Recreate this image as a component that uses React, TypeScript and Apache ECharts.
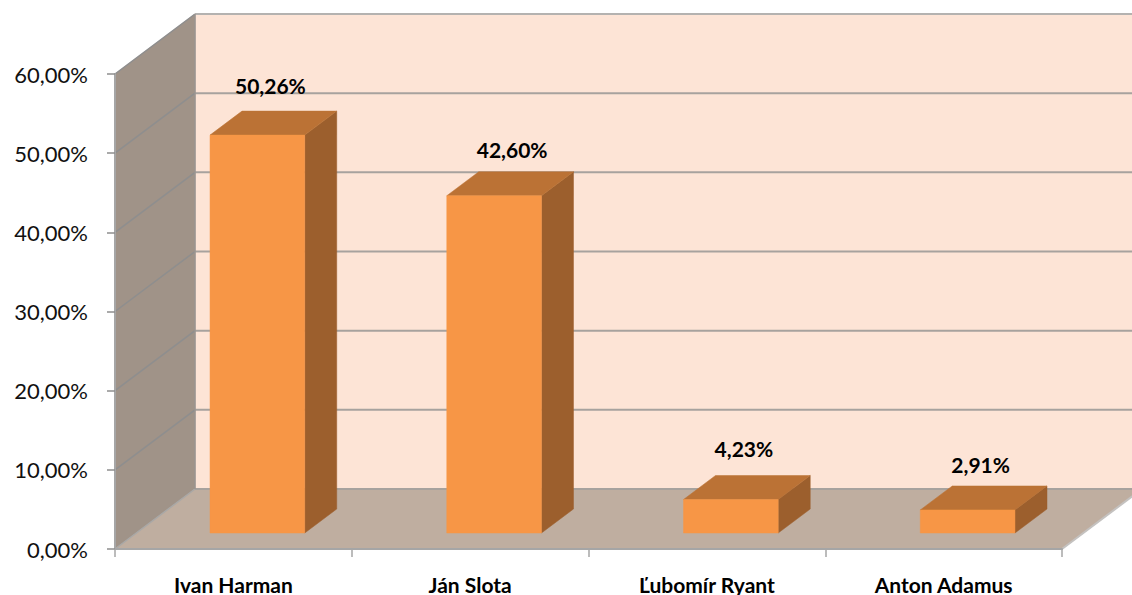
import React, { useEffect, useRef } from "react";
import * as echarts from "echarts";

const categories = ["Ivan Harman", "Ján Slota", "Ľubomír Ryant", "Anton Adamus"];
const values = [50.26, 42.6, 4.23, 2.91];
const axisTicks = [0, 10, 20, 30, 40, 50, 60];

const fmt = (v: number) => v.toFixed(2).replace(".", ",") + "%";

// layout of the pseudo-3D box (pixels)
const WALL_DX = 80;
const WALL_DY = -60;
const BAR_SHIFT_X = 24;
const BAR_SHIFT_Y = -16;
const BAR_DX = 32;
const BAR_DY = -24;
const BAR_RATIO = 0.4;
const labelNudge = [
  [13, -50],
  [18, -46],
  [13, -51],
  [13, -45],
];

const FONT = "Lato, Carlito, sans-serif";

const poly = (points: number[][], fill: string, extra: any = {}) => ({
  type: "polygon",
  shape: { points },
  style: { fill, stroke: fill, lineWidth: 0.5, ...extra },
});
const seg = (a: number[], b: number[], stroke: string, lineWidth = 2) => ({
  type: "line",
  shape: { x1: a[0], y1: a[1], x2: b[0], y2: b[1] },
  style: { stroke, lineWidth },
});

function renderBox(_p: any, api: any) {
  const n = categories.length;
  const left = api.coord([0, 0])[0] - api.size([1, 0])[0] / 2;
  const right = left + api.size([1, 0])[0] * n;
  const y0 = api.coord([0, 0])[1];
  const yTop = api.coord([0, axisTicks[axisTicks.length - 1]])[1];
  const children: any[] = [
    poly(
      [
        [left + WALL_DX, yTop + WALL_DY],
        [right + WALL_DX, yTop + WALL_DY],
        [right + WALL_DX, y0 + WALL_DY],
        [left + WALL_DX, y0 + WALL_DY],
      ],
      "#fde4d6"
    ),
    poly(
      [
        [left, yTop],
        [left + WALL_DX, yTop + WALL_DY],
        [left + WALL_DX, y0 + WALL_DY],
        [left, y0],
      ],
      "#a09388"
    ),
    poly(
      [
        [left, y0],
        [left + WALL_DX, y0 + WALL_DY],
        [right + WALL_DX, y0 + WALL_DY],
        [right, y0],
      ],
      "#bfaea0"
    ),
  ];
  axisTicks.forEach((t) => {
    const y = api.coord([0, t])[1];
    const isTop = t === axisTicks[axisTicks.length - 1];
    const color = isTop ? "#b4b2b0" : "#a7a29e";
    children.push(seg([left, y], [left + WALL_DX, y + WALL_DY], t === 0 ? "#a9a8a6" : "#8e8e8e", 1.5));
    children.push(seg([left + WALL_DX, y + WALL_DY], [right + WALL_DX, y + WALL_DY], color, 2));
  });
  children.push(seg([left + WALL_DX, yTop + WALL_DY], [left + WALL_DX, y0 + WALL_DY], "#9a9490", 1.5));
  children.push(seg([right, y0], [right + WALL_DX, y0 + WALL_DY], "#c4c2c0", 2));
  return { type: "group", children };
}

function renderBar(_p: any, api: any) {
  const i = api.value(0);
  const v = api.value(1);
  const c = api.coord([i, v]);
  const base = api.coord([i, 0]);
  const w = api.size([1, 0])[0] * BAR_RATIO;
  const x0 = c[0] - w / 2 + BAR_SHIFT_X;
  const x1 = x0 + w;
  const yT = c[1] + BAR_SHIFT_Y;
  const yB = base[1] + BAR_SHIFT_Y;
  const nudge = labelNudge[i];
  return {
    type: "group",
    children: [
      poly(
        [
          [x1, yT],
          [x1 + BAR_DX, yT + BAR_DY],
          [x1 + BAR_DX, yB + BAR_DY],
          [x1, yB],
        ],
        "#9c5f2d"
      ),
      poly(
        [
          [x0, yT],
          [x0 + BAR_DX, yT + BAR_DY],
          [x1 + BAR_DX, yT + BAR_DY],
          [x1, yT],
        ],
        "#bb7235"
      ),
      poly(
        [
          [x0, yT],
          [x1, yT],
          [x1, yB],
          [x0, yB],
        ],
        "#f79646"
      ),
      {
        type: "text",
        x: (x0 + x1) / 2 + nudge[0],
        y: yT + nudge[1],
        style: {
          text: fmt(v),
          fill: "#000000",
          font: `bold 21px ${FONT}`,
          align: "center",
          verticalAlign: "middle",
        },
      },
    ],
  };
}

export default function App() {
  const ref = useRef<HTMLDivElement>(null);
  useEffect(() => {
    document.body.style.margin = "0";
    const chart = echarts.init(ref.current!, undefined, { renderer: "svg" });
    chart.setOption({
      animation: false,
      backgroundColor: "#ffffff",
      grid: { left: 115, right: 70, top: 74, bottom: 45, containLabel: false },
      xAxis: {
        type: "category",
        data: categories,
        boundaryGap: true,
        axisLine: { show: true, lineStyle: { color: "#a6a6a6", width: 2 } },
        axisTick: { show: true, length: 8, lineStyle: { color: "#a6a6a6", width: 1.5 } },
        axisLabel: {
          margin: 25,
          color: "#000000",
          fontFamily: FONT,
          fontWeight: "bold",
          fontSize: 21,
          interval: 0,
        },
        z: 5,
      },
      yAxis: {
        type: "value",
        min: 0,
        max: 60,
        interval: 10,
        axisLine: { show: true, lineStyle: { color: "#a6a6a6", width: 2 } },
        axisTick: { show: true, length: 8, lineStyle: { color: "#8e8e8e", width: 1.5 } },
        splitLine: { show: false },
        axisLabel: {
          margin: 27,
          color: "#111111",
          fontFamily: FONT,
          fontSize: 22,
          formatter: (v: number) => fmt(v),
        },
        z: 5,
      },
      series: [
        {
          type: "custom",
          name: "box",
          renderItem: renderBox,
          data: [[0, 0]],
          encode: { x: 0, y: 1 },
          silent: true,
          clip: false,
          z: 1,
        },
        {
          type: "custom",
          name: "values",
          renderItem: renderBar,
          data: values.map((v, i) => [i, v]),
          encode: { x: 0, y: 1 },
          clip: false,
          z: 2,
        },
      ],
    });
    return () => chart.dispose();
  }, []);
  return <div ref={ref} style={{ position: "fixed", left: 0, top: 0, width: 1132, height: 595 }} />;
}
